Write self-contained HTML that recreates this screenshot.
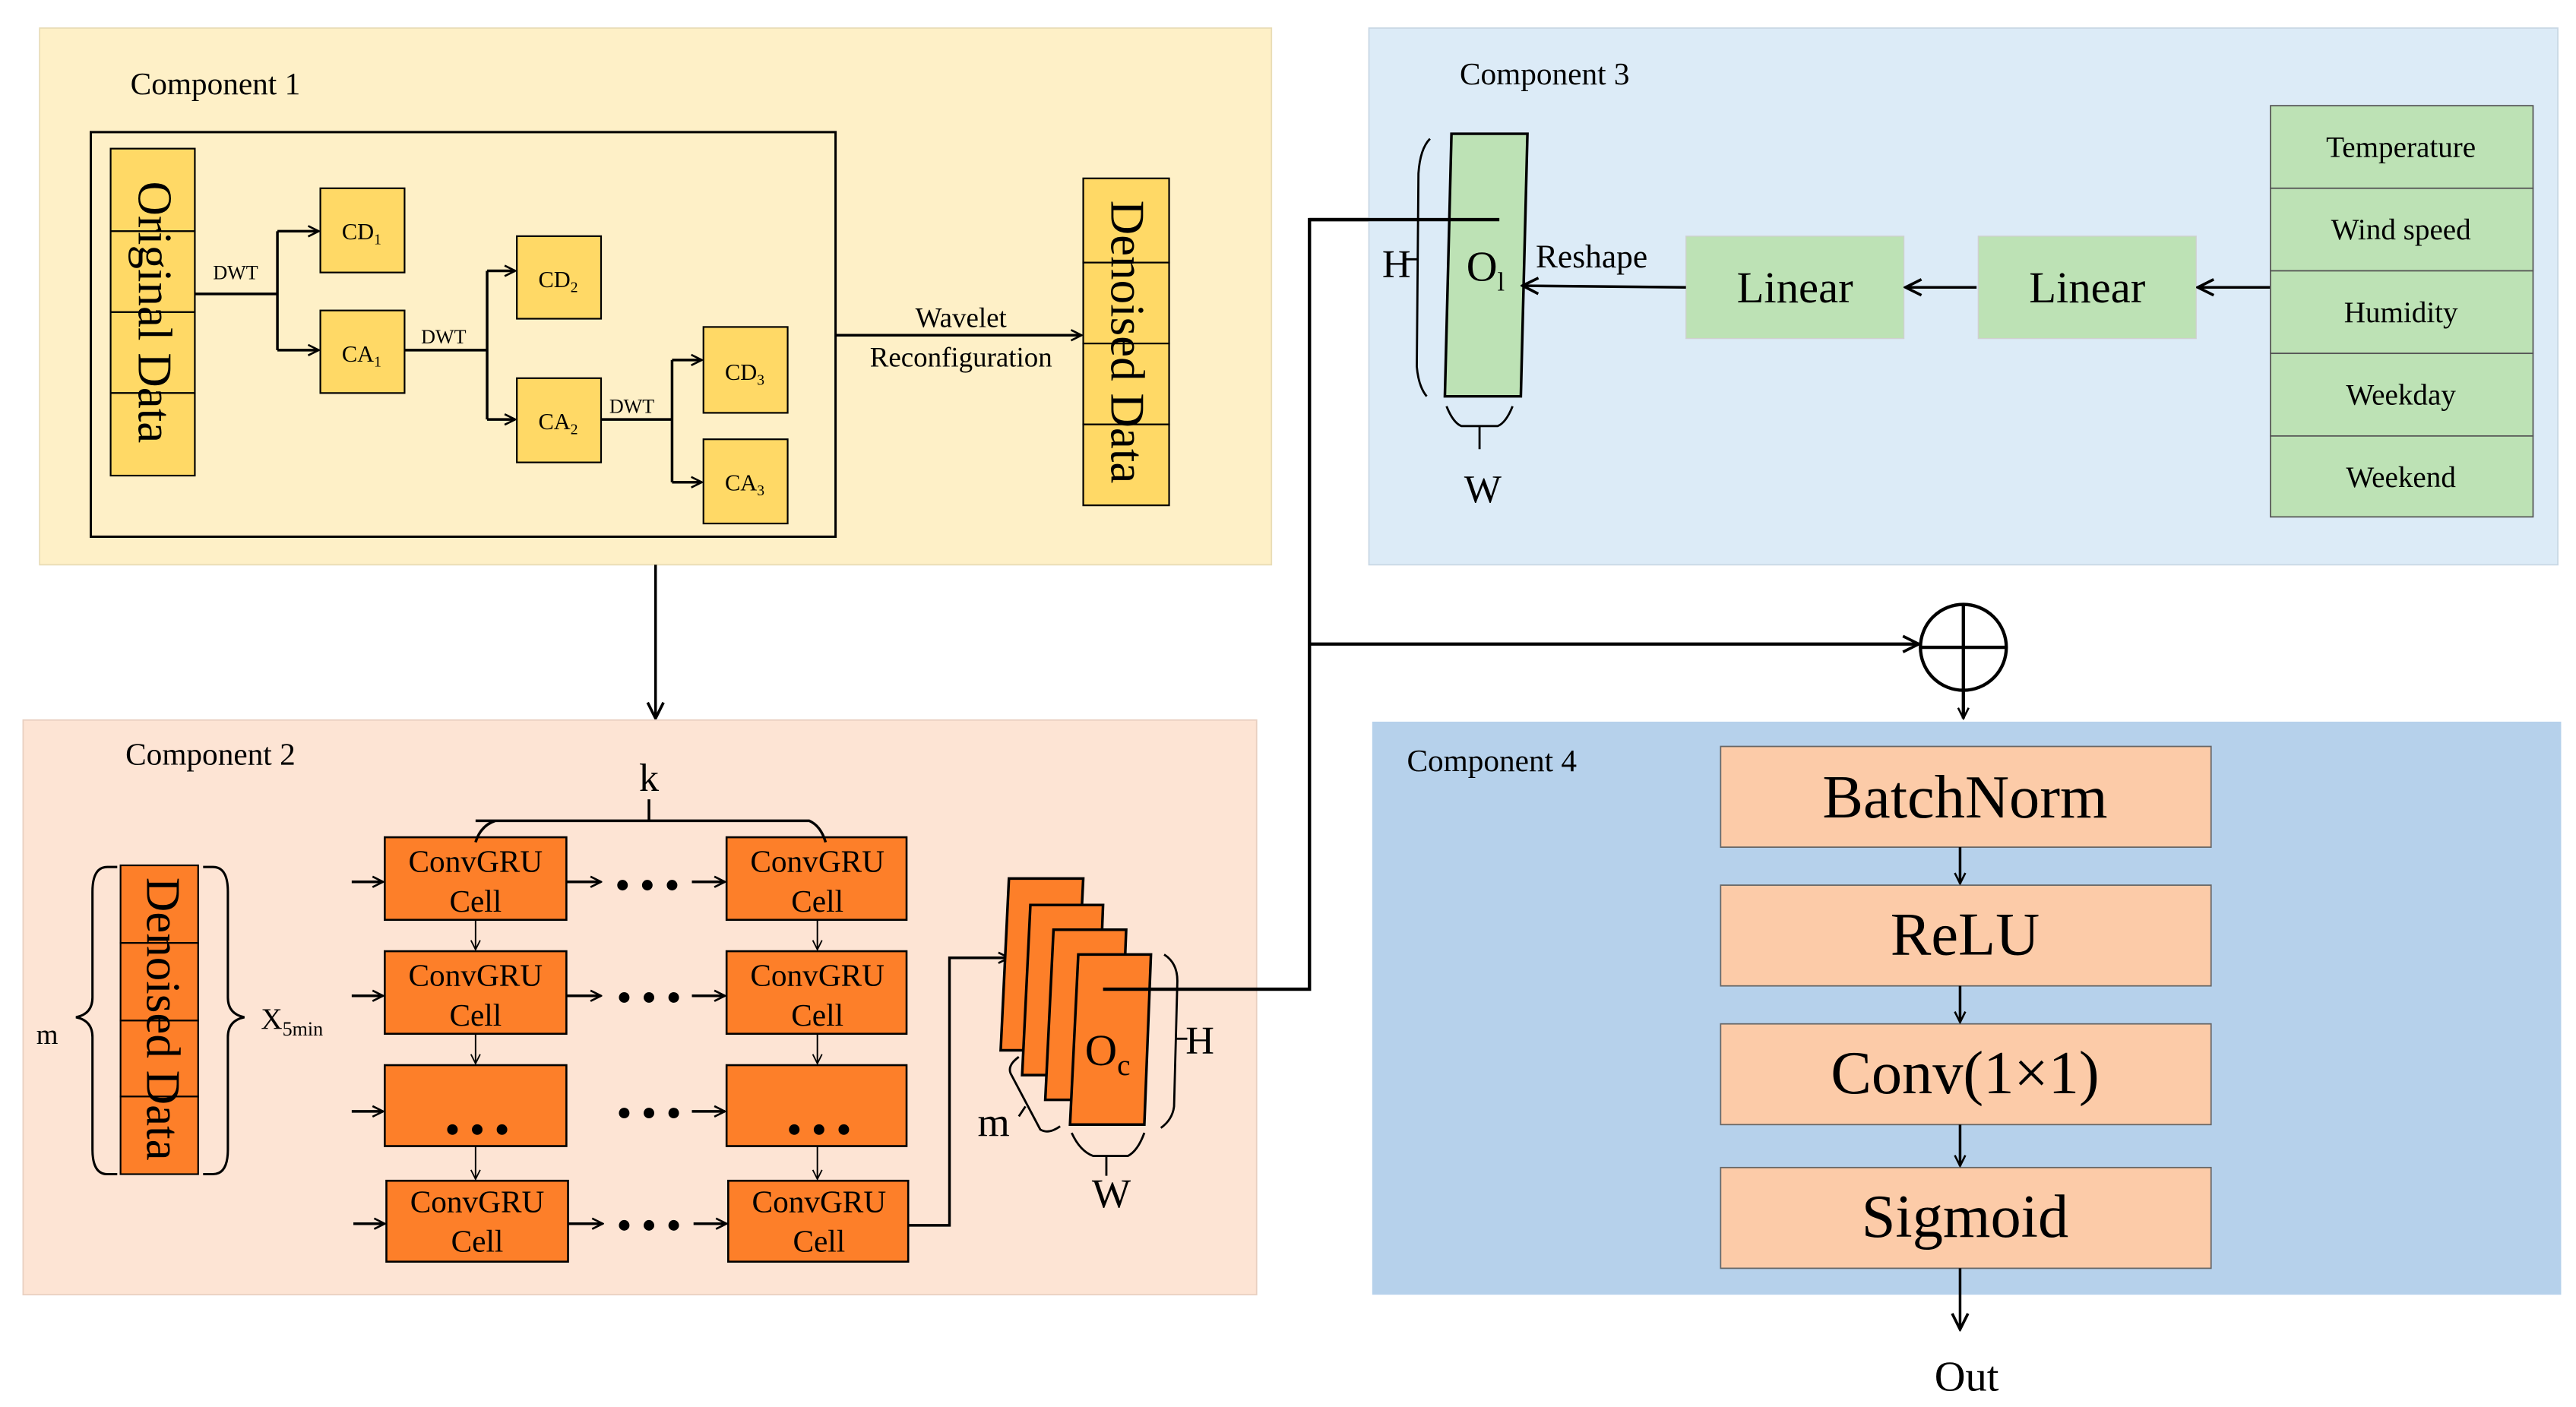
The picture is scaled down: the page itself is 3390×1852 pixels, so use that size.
<!DOCTYPE html>
<html><head><meta charset="utf-8"><style>
html,body{margin:0;padding:0;background:#fff;}
svg{display:block;font-family:"Liberation Serif","Times New Roman",serif;}
svg text, svg tspan{font-family:"Liberation Serif","Times New Roman",serif;fill:#000;}
</style></head><body>
<svg width="3390" height="1852" viewBox="0 0 1560 852" preserveAspectRatio="none" xmlns="http://www.w3.org/2000/svg" font-family="Liberation Serif, serif">
<defs>
<marker id="a" viewBox="0 0 10 10" refX="9" refY="5" markerWidth="8" markerHeight="8" markerUnits="userSpaceOnUse" orient="auto"><path d="M1,1 L9,5 L1,9" fill="none" stroke="#000" stroke-width="1.5"/></marker>
<marker id="as" viewBox="0 0 10 10" refX="9" refY="5" markerWidth="7" markerHeight="7" markerUnits="userSpaceOnUse" orient="auto"><path d="M1,1 L9,5 L1,9" fill="none" stroke="#000" stroke-width="1.2"/></marker>
<marker id="ab" viewBox="0 0 10 10" refX="9" refY="5" markerWidth="12" markerHeight="12" markerUnits="userSpaceOnUse" orient="auto"><path d="M1,1 L9,5 L1,9" fill="none" stroke="#000" stroke-width="1.4"/></marker>
</defs>
<g font-family="Liberation Serif, serif">

<!-- Component 1 -->
<rect x="24" y="17" width="746" height="325" fill="#FEF0C7" stroke="#e8dcb5" stroke-width="0.8"/>
<text x="79" y="57" font-size="19">Component 1</text>
<rect x="55" y="80" width="451" height="245" fill="none" stroke="#000" stroke-width="1.4"/>
<g fill="#FFD966" stroke="#000" stroke-width="1">
<rect x="67" y="90" width="51" height="50"/><rect x="67" y="140" width="51" height="49"/><rect x="67" y="189" width="51" height="49"/><rect x="67" y="238" width="51" height="50"/>
<rect x="656" y="108" width="52" height="51"/><rect x="656" y="159" width="52" height="49"/><rect x="656" y="208" width="52" height="49"/><rect x="656" y="257" width="52" height="49"/>
<rect x="194" y="114" width="51" height="51"/><rect x="194" y="188" width="51" height="50"/>
<rect x="313" y="143" width="51" height="50"/><rect x="313" y="229" width="51" height="51"/>
<rect x="426" y="198" width="51" height="52"/><rect x="426" y="266" width="51" height="51"/>
</g>
<text transform="translate(84,189) rotate(90)" font-size="29" text-anchor="middle">Original Data</text>
<text transform="translate(673,207) rotate(90)" font-size="29" text-anchor="middle">Denoised Data</text>
<g font-size="14" text-anchor="middle">
<text x="219" y="145">CD<tspan font-size="9" dy="3">1</tspan></text>
<text x="219" y="219">CA<tspan font-size="9" dy="3">1</tspan></text>
<text x="338" y="174">CD<tspan font-size="9" dy="3">2</tspan></text>
<text x="338" y="260">CA<tspan font-size="9" dy="3">2</tspan></text>
<text x="451" y="230">CD<tspan font-size="9" dy="3">3</tspan></text>
<text x="451" y="297">CA<tspan font-size="9" dy="3">3</tspan></text>
</g>
<g font-size="12"><text x="129" y="169">DWT</text><text x="255" y="208">DWT</text><text x="369" y="250">DWT</text></g>
<g fill="none" stroke="#000" stroke-width="1.6">
<path d="M118,178 H168 M168,140 V212"/>
<path d="M168,140 H193" marker-end="url(#a)"/><path d="M168,212 H193" marker-end="url(#a)"/>
<path d="M245,212 H295 M295,164 V254"/>
<path d="M295,164 H312" marker-end="url(#a)"/><path d="M295,254 H312" marker-end="url(#a)"/>
<path d="M364,254 H407 M407,218 V292"/>
<path d="M407,218 H425" marker-end="url(#a)"/><path d="M407,292 H425" marker-end="url(#a)"/>
<path d="M506,203 H655" marker-end="url(#a)"/>
<path d="M397,342 V435" marker-end="url(#ab)"/>
</g>
<text x="582" y="198" font-size="17" text-anchor="middle">Wavelet</text>
<text x="582" y="222" font-size="17" text-anchor="middle">Reconfiguration</text>

<!-- Component 2 -->
<rect x="14" y="436" width="747" height="348" fill="#FDE4D4" stroke="#e8cfc0" stroke-width="0.8"/>
<text x="76" y="463" font-size="19">Component 2</text>
<g fill="#FD7F29" stroke="#000" stroke-width="1">
<rect x="73" y="524" width="47" height="47"/><rect x="73" y="571" width="47" height="47"/><rect x="73" y="618" width="47" height="46"/><rect x="73" y="664" width="47" height="47"/>
</g>
<text transform="translate(89,617) rotate(90)" font-size="29" text-anchor="middle">Denoised Data</text>
<g fill="none" stroke="#000" stroke-width="1.4">
<path d="M71,525 H65 Q56,525 56,540 V604 Q56,614 46,616 Q56,618 56,628 V696 Q56,711 65,711 H71"/>
<path d="M123,525 H129 Q138,525 138,540 V604 Q138,614 148,616 Q138,618 138,628 V696 Q138,711 129,711 H123"/>
</g>
<text x="22" y="632" font-size="17">m</text>
<text x="158" y="623" font-size="18">X<tspan font-size="12" dy="4">5min</tspan></text>

<g fill="#FD7F29" stroke="#000" stroke-width="1.2">
<rect x="233" y="507" width="110" height="50"/><rect x="440" y="507" width="109" height="50"/>
<rect x="233" y="576" width="110" height="50"/><rect x="440" y="576" width="109" height="50"/>
<rect x="233" y="645" width="110" height="49"/><rect x="440" y="645" width="109" height="49"/>
<rect x="234" y="715" width="110" height="49"/><rect x="441" y="715" width="109" height="49"/>
</g>
<g font-size="19" text-anchor="middle">
<text x="288" y="528">ConvGRU</text><text x="288" y="552">Cell</text>
<text x="495" y="528">ConvGRU</text><text x="495" y="552">Cell</text>
<text x="288" y="597">ConvGRU</text><text x="288" y="621">Cell</text>
<text x="495" y="597">ConvGRU</text><text x="495" y="621">Cell</text>
<text x="289" y="734">ConvGRU</text><text x="289" y="758">Cell</text>
<text x="496" y="734">ConvGRU</text><text x="496" y="758">Cell</text>
</g>
<g fill="#000">
<circle cx="377" cy="536" r="3.2"/><circle cx="392" cy="536" r="3.2"/><circle cx="407" cy="536" r="3.2"/>
<circle cx="378" cy="604" r="3.2"/><circle cx="393" cy="604" r="3.2"/><circle cx="408" cy="604" r="3.2"/>
<circle cx="378" cy="674" r="3.2"/><circle cx="393" cy="674" r="3.2"/><circle cx="408" cy="674" r="3.2"/>
<circle cx="378" cy="742" r="3.2"/><circle cx="393" cy="742" r="3.2"/><circle cx="408" cy="742" r="3.2"/>
<circle cx="274" cy="684" r="3.2"/><circle cx="289" cy="684" r="3.2"/><circle cx="304" cy="684" r="3.2"/>
<circle cx="481" cy="684" r="3.2"/><circle cx="496" cy="684" r="3.2"/><circle cx="511" cy="684" r="3.2"/>
</g>
<g fill="none" stroke="#000" stroke-width="1.6">
<path d="M213,534 H232" marker-end="url(#a)"/><path d="M213,603 H232" marker-end="url(#a)"/>
<path d="M213,673 H232" marker-end="url(#a)"/><path d="M214,741 H233" marker-end="url(#a)"/>
<path d="M343,534 H364" marker-end="url(#a)"/><path d="M343,603 H364" marker-end="url(#a)"/><path d="M344,741 H365" marker-end="url(#a)"/>
<path d="M419,534 H439" marker-end="url(#a)"/><path d="M419,603 H439" marker-end="url(#a)"/>
<path d="M419,673 H439" marker-end="url(#a)"/><path d="M420,741 H440" marker-end="url(#a)"/>
<path d="M288,497 Q290,497 295,497 H490 Q497,500 500,510 M288,510 Q291,500 300,497 M393,497 V484"/>
<path d="M550,742 H575 V580 H611" marker-end="url(#a)"/>
</g>
<g fill="none" stroke="#000" stroke-width="0.9">
<path d="M288,557 V575" marker-end="url(#as)"/><path d="M495,557 V575" marker-end="url(#as)"/>
<path d="M288,626 V644" marker-end="url(#as)"/><path d="M495,626 V644" marker-end="url(#as)"/>
<path d="M288,694 V714" marker-end="url(#as)"/><path d="M495,694 V714" marker-end="url(#as)"/>
</g>
<text x="393" y="479" font-size="24" text-anchor="middle">k</text>

<g fill="#FD7F29" stroke="#000" stroke-width="1.6">
<path d="M611,532 H656 L651,636 H606 Z"/>
<path d="M624,548 H668 L664,651 H619 Z"/>
<path d="M638,563 H682 L678,666 H633 Z"/>
<path d="M653,578 H697 L693,681 H648 Z"/>
</g>
<text x="657" y="645" font-size="27">O<tspan font-size="18" dy="6">c</tspan></text>
<g fill="none" stroke="#000" stroke-width="1.3">
<path d="M705,578 Q713,583 713,594 L711,670 Q710,678 703,683"/>
<path d="M712,629 H719"/>
<path d="M649,686 Q654,697 662,700 H683 Q689,697 693,686 M670,700 V712"/>
<path d="M617,640 Q610,645 612,650 L630,684 Q635,687 642,682 M617,676 L621,670"/>
</g>
<text x="718" y="638" font-size="24">H</text>
<text x="673" y="731" font-size="25" text-anchor="middle">W</text>
<text x="592" y="688" font-size="25">m</text>

<!-- connectors to comp3/comp4 -->
<g fill="none" stroke="#000" stroke-width="2">
<path d="M668,599 H793 V133 H908"/>
<path d="M793,390 H1162" marker-end="url(#ab)"/>
<path d="M1189,418 V435" marker-end="url(#a)"/>
</g>

<!-- Component 3 -->
<rect x="829" y="17" width="720" height="325" fill="#DCEBF7" stroke="#c8d7e4" stroke-width="0.8"/>
<text x="884" y="51" font-size="19">Component 3</text>
<path d="M879,81 H925 L921,240 H875 Z" fill="#BDE2B5" stroke="#000" stroke-width="1.6"/>
<path d="M793,133 H908" stroke="#000" stroke-width="2"/>
<text x="888" y="170" font-size="26">O<tspan font-size="16" dy="6">l</tspan></text>
<g fill="none" stroke="#000" stroke-width="1.3">
<path d="M866,84 Q860,90 859,105 L858,222 Q859,234 864,240"/>
<path d="M851,157 H858"/>
<path d="M876,246 Q880,256 885,258 H907 Q912,256 916,246 M896,258 V272"/>
</g>
<text x="837" y="168" font-size="24">H</text>
<text x="898" y="304" font-size="24" text-anchor="middle">W</text>
<text x="930" y="162" font-size="20">Reshape</text>
<g fill="#BDE2B5" stroke="#d0d0d0" stroke-width="0.6">
<rect x="1021" y="143" width="132" height="62"/>
<rect x="1198" y="143" width="132" height="62"/>
</g>
<g font-size="27" text-anchor="middle"><text x="1087" y="183">Linear</text><text x="1264" y="183">Linear</text></g>
<g fill="none" stroke="#000" stroke-width="1.6">
<path d="M1021,174 L922,173" marker-end="url(#ab)"/>
<path d="M1197,174 H1154" marker-end="url(#ab)"/>
<path d="M1375,174 H1331" marker-end="url(#ab)"/>
</g>
<g fill="#BDE2B5" stroke="#555" stroke-width="0.8">
<rect x="1375" y="64" width="159" height="50"/><rect x="1375" y="114" width="159" height="50"/><rect x="1375" y="164" width="159" height="50"/><rect x="1375" y="214" width="159" height="50"/><rect x="1375" y="264" width="159" height="49"/>
</g>
<g font-size="18" text-anchor="middle">
<text x="1454" y="95">Temperature</text><text x="1454" y="145">Wind speed</text><text x="1454" y="195">Humidity</text><text x="1454" y="245">Weekday</text><text x="1454" y="295">Weekend</text>
</g>

<!-- circle plus -->
<g fill="none" stroke="#000" stroke-width="2">
<circle cx="1189" cy="392" r="26"/><path d="M1163,392 H1215 M1189,366 V418"/>
</g>

<!-- Component 4 -->
<rect x="831" y="437" width="720" height="347" fill="#B6D1EB"/>
<text x="852" y="467" font-size="19">Component 4</text>
<g fill="#FCCBA8" stroke="#666" stroke-width="0.8">
<rect x="1042" y="452" width="297" height="61"/><rect x="1042" y="536" width="297" height="61"/>
<rect x="1042" y="620" width="297" height="61"/><rect x="1042" y="707" width="297" height="61"/>
</g>
<g font-size="37" text-anchor="middle">
<text x="1190" y="495">BatchNorm</text><text x="1190" y="578">ReLU</text><text x="1190" y="662">Conv(1×1)</text><text x="1190" y="749">Sigmoid</text>
</g>
<g fill="none" stroke="#000" stroke-width="1.6">
<path d="M1187,513 V535" marker-end="url(#a)"/><path d="M1187,597 V619" marker-end="url(#a)"/>
<path d="M1187,681 V706" marker-end="url(#a)"/><path d="M1187,768 V805" marker-end="url(#ab)"/>
</g>
<text x="1191" y="842" font-size="26" text-anchor="middle">Out</text>
</g>
</svg>
</body></html>
